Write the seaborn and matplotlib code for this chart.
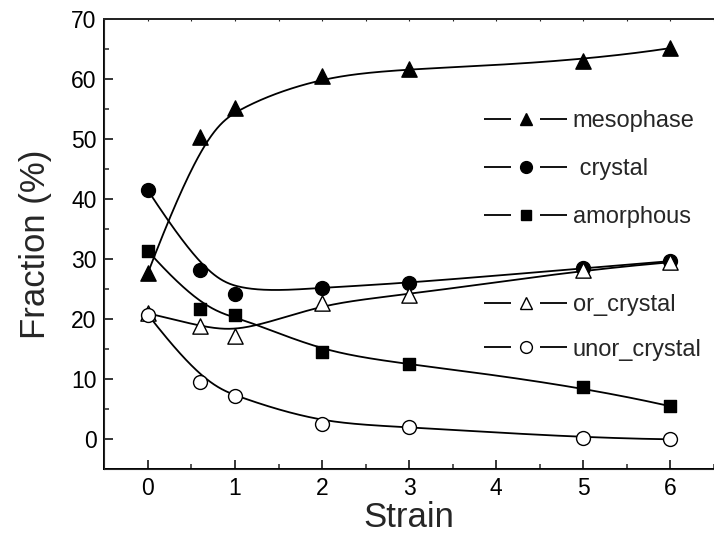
import numpy as np
import pandas as pd
import matplotlib
matplotlib.use("Agg")
import matplotlib.pyplot as plt
import seaborn as sns
from matplotlib.lines import Line2D
from matplotlib.legend_handler import HandlerTuple
from matplotlib.ticker import MultipleLocator

# ---- data ----
strain = [0, 0.6, 1, 2, 3, 5, 6]
mesophase = [27.7, 50.4, 55.3, 60.5, 61.8, 63.0, 65.2]
crystal = [41.5, 28.2, 24.2, 25.3, 26.0, 28.5, 29.7]
amorphous = [31.4, 21.7, 20.8, 14.5, 12.5, 8.8, 5.5]
or_crystal = [21.0, 18.9, 17.2, 22.8, 24.0, 28.3, 29.5]
unor_crystal = [20.8, 9.6, 7.2, 2.6, 2.1, 0.2, 0.0]

series_names = ["mesophase", " crystal", "amorphous", "or_crystal", "unor_crystal"]
series_values = [mesophase, crystal, amorphous, or_crystal, unor_crystal]
markers = ["^", "o", "s", "^", "o"]
filled = [True, True, True, False, False]
msizes = [11, 10, 9, 11, 10]

sns.set_style("ticks")
plt.rcParams["font.family"] = ["Liberation Sans", "DejaVu Sans"]
plt.rcParams["lines.scale_dashes"] = False


def bspline(px, py, n=300, k=3):
    P = np.column_stack([px, py]).astype(float)
    m = len(P)
    knots = np.concatenate([[0] * k, np.arange(m - k + 1), [m - k] * k]).astype(float)
    t = np.linspace(0, m - k, n)
    nb = len(knots) - 1
    N = np.zeros((n, nb))
    for i in range(nb):
        N[:, i] = (knots[i] <= t) & (t < knots[i + 1])
    last = np.where(knots < knots[-1])[0][-1]
    N[t >= knots[-1], last] = 1.0
    for d in range(1, k + 1):
        Nn = np.zeros((n, nb - d))
        for i in range(nb - d):
            a = knots[i + d] - knots[i]
            b = knots[i + d + 1] - knots[i + 1]
            term = np.zeros(n)
            if a > 0:
                term += (t - knots[i]) / a * N[:, i]
            if b > 0:
                term += (knots[i + d + 1] - t) / b * N[:, i + 1]
            Nn[:, i] = term
        N = Nn
    C = N @ P
    return C[:, 0], C[:, 1]


W, H = 714, 537
fig = plt.figure(figsize=(W / 100, H / 100), dpi=100)
ax = fig.add_axes([104.3 / W, 1 - 469.3 / H, (714 - 104.3) / W, (469.3 - 19.3) / H])

lw = 1.3
for name, vals, mk, fl, ms in zip(series_names, series_values, markers, filled, msizes):
    cx, cy = bspline(strain, vals)
    curve = pd.DataFrame({"x": cx, "y": cy})
    sns.lineplot(data=curve, x="x", y="y", sort=False, estimator=None,
                 color="black", lw=lw, ax=ax, zorder=2)
    pts = pd.DataFrame({"x": strain, "y": vals})
    sns.scatterplot(data=pts, x="x", y="y", marker=mk, s=ms ** 2,
                    facecolor="black" if fl else "white", edgecolor="black",
                    linewidth=1.0, ax=ax, zorder=3)

ax.set_xlim(-0.5, 6.5)
ax.set_ylim(-5, 70)
ax.xaxis.set_major_locator(MultipleLocator(1))
ax.xaxis.set_minor_locator(MultipleLocator(0.5))
ax.yaxis.set_major_locator(MultipleLocator(10))
ax.yaxis.set_minor_locator(MultipleLocator(5))
ax.tick_params(which="major", direction="in", length=6.5, width=1.1, labelsize=16.5,
               colors="black", pad=5.5)
ax.tick_params(which="minor", direction="in", length=3.5, width=1.1)
for s in ["left", "bottom", "top"]:
    ax.spines[s].set_linewidth(1.4)
    ax.spines[s].set_color("black")
ax.spines["right"].set_visible(False)

ax2 = ax.twiny()
ax2.set_xlim(ax.get_xlim())
ax2.xaxis.set_major_locator(MultipleLocator(0.5))
ax2.tick_params(axis="x", direction="in", length=1.5, width=0.8, labeltop=False)
ax2.spines["right"].set_visible(False)
ax2.spines["top"].set_linewidth(1.4)

ax.set_xlabel("Strain", fontsize=25, labelpad=1)
ax.set_ylabel("Fraction (%)", fontsize=25, labelpad=14)

# legend
handles = []
on = 27 / 100 * 72
off = 29 / 100 * 72
for mk, fl, ms in zip(markers, filled, msizes):
    ln = Line2D([], [], color="black", lw=lw, linestyle=(0, (on, off, on, 200)))
    mkh = Line2D([], [], ls="none", marker=mk, markersize=ms * 0.85,
                 markerfacecolor="black" if fl else "white",
                 markeredgecolor="black", markeredgewidth=1.0)
    handles.append((ln, mkh))

fs = 17
hl = 83 / (fs * 100 / 72)
common = dict(loc="center left", frameon=False, fontsize=fs, handlelength=hl,
              handletextpad=0.25, borderpad=0, borderaxespad=0,
              handler_map={tuple: HandlerTuple(ndivide=1, pad=0)})
leg1 = fig.legend(handles[:3], series_names[:3],
                  bbox_to_anchor=(484 / W, 1 - 169 / H), labelspacing=1.1, **common)
leg2 = fig.legend(handles[3:], series_names[3:],
                  bbox_to_anchor=(484 / W, 1 - 327.5 / H), labelspacing=0.95, **common)

fig.savefig("out.png", dpi=100)
